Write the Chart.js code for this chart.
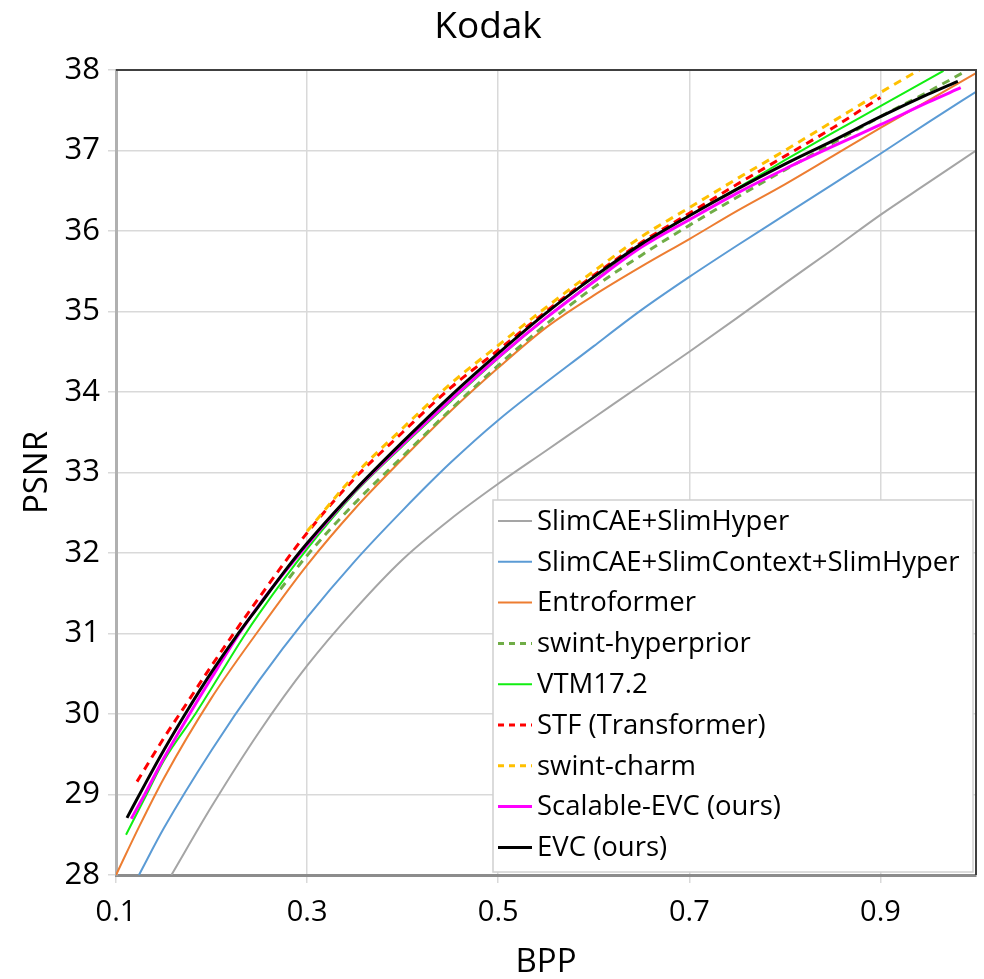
<!DOCTYPE html>
<html>
<head>
<meta charset="utf-8">
<script src="https://cdn.jsdelivr.net/npm/chart.js@4.4.1/dist/chart.umd.min.js"></script>
<style>
  html, body { margin: 0; padding: 0; background: #fff; }
  canvas { display: block; }
</style>
</head>
<body>
<canvas id="chtKodak" width="984" height="979"></canvas>
<script>
'use strict';

// tick labels
const xTicks = [0.1, 0.3, 0.5, 0.7, 0.9];
const yTicks = [28, 29, 30, 31, 32, 33, 34, 35, 36, 37, 38];

// series names (legend order)
const seriesNames = [
    'SlimCAE+SlimHyper',
    'SlimCAE+SlimContext+SlimHyper',
    'Entroformer',
    'swint-hyperprior',
    'VTM17.2',
    'STF (Transformer)',
    'swint-charm',
    'Scalable-EVC (ours)',
    'EVC (ours)'
];

// BPP / PSNR
const bppSlimHyper = [0.158, 0.2, 0.25, 0.3, 0.35, 0.4, 0.45, 0.5, 0.55, 0.6, 0.65, 0.7, 0.75, 0.8, 0.85, 0.9, 0.95, 1.0];
const psnrSlimHyper = [28.0, 28.85, 29.78, 30.6, 31.3, 31.92, 32.42, 32.86, 33.27, 33.68, 34.09, 34.5, 34.92, 35.35, 35.77, 36.2, 36.6, 37.0];

const bppSlimContext = [0.124, 0.15, 0.2, 0.25, 0.3, 0.35, 0.4, 0.45, 0.5, 0.6, 0.65, 0.7, 0.75, 0.8, 0.85, 0.9, 0.95, 1.0];
const psnrSlimContext = [28.0, 28.58, 29.55, 30.42, 31.2, 31.9, 32.53, 33.12, 33.65, 34.57, 35.02, 35.43, 35.82, 36.2, 36.58, 36.96, 37.35, 37.73];

const bppEntroformer = [0.1, 0.125, 0.15, 0.2, 0.25, 0.3, 0.35, 0.4, 0.45, 0.5, 0.55, 0.6, 0.65, 0.7, 0.75, 0.8, 0.85, 0.9, 0.95, 1.0];
const psnrEntroformer = [28.0, 28.62, 29.2, 30.2, 31.05, 31.85, 32.55, 33.17, 33.76, 34.3, 34.8, 35.2, 35.56, 35.9, 36.25, 36.58, 36.93, 37.28, 37.62, 37.96];

const bppSwintHyper = [0.272, 0.3, 0.35, 0.4, 0.45, 0.5, 0.55, 0.6, 0.65, 0.7, 0.75, 0.8, 0.85, 0.9, 0.95, 0.99];
const psnrSwintHyper = [31.55, 31.97, 32.62, 33.2, 33.78, 34.33, 34.84, 35.3, 35.7, 36.07, 36.42, 36.76, 37.09, 37.42, 37.73, 37.99];

const bppVtm = [0.1105, 0.132, 0.15, 0.183, 0.2, 0.233, 0.25, 0.3, 0.35, 0.4, 0.45, 0.5, 0.55, 0.6, 0.65, 0.7, 0.75, 0.8, 0.85, 0.9, 0.966];
const psnrVtm = [28.5, 29.0, 29.42, 30.0, 30.32, 30.95, 31.25, 32.05, 32.75, 33.33, 33.88, 34.42, 34.92, 35.38, 35.82, 36.19, 36.53, 36.88, 37.22, 37.55, 37.99];

const bppStf = [0.122, 0.15, 0.175, 0.2, 0.25, 0.3, 0.35, 0.4, 0.45, 0.5, 0.55, 0.6, 0.65, 0.7, 0.75, 0.8, 0.85, 0.9];
const psnrStf = [29.16, 29.7, 30.15, 30.6, 31.45, 32.25, 32.93, 33.5, 34.05, 34.52, 35.0, 35.45, 35.86, 36.22, 36.58, 36.93, 37.28, 37.66];

const bppSwintCharm = [0.3, 0.35, 0.4, 0.45, 0.5, 0.55, 0.6, 0.65, 0.7, 0.75, 0.8, 0.85, 0.9, 0.945];
const psnrSwintCharm = [32.27, 32.97, 33.55, 34.1, 34.58, 35.05, 35.5, 35.93, 36.29, 36.65, 37.0, 37.36, 37.72, 38.03];

const bppScalableEvc = [0.116, 0.13, 0.15, 0.177, 0.2, 0.229, 0.25, 0.3, 0.35, 0.4, 0.45, 0.5, 0.55, 0.6, 0.65, 0.7, 0.75, 0.8, 0.85, 0.9, 0.95, 0.984];
const psnrScalableEvc = [28.7, 29.0, 29.45, 30.0, 30.45, 31.0, 31.36, 32.1, 32.77, 33.35, 33.9, 34.43, 34.92, 35.37, 35.8, 36.14, 36.47, 36.77, 37.05, 37.32, 37.6, 37.78];

const bppEvc = [0.1115, 0.13, 0.15, 0.175, 0.2, 0.225, 0.25, 0.275, 0.3, 0.35, 0.4, 0.45, 0.5, 0.55, 0.6, 0.65, 0.7, 0.75, 0.8, 0.85, 0.9, 0.95, 0.981];
const psnrEvc = [28.71, 29.12, 29.55, 30.05, 30.52, 30.95, 31.35, 31.75, 32.12, 32.78, 33.38, 33.95, 34.48, 34.98, 35.43, 35.84, 36.19, 36.52, 36.83, 37.12, 37.42, 37.7, 37.86];

const FONT = '"Open Sans", "DejaVu Sans", sans-serif';

function toPoints(xs, ys) {
    return xs.map((x, i) => ({ x: x, y: ys[i] }));
}

function makeSeries(index, xs, ys, color, width, dash) {
    return {
        label: seriesNames[index],
        data: toPoints(xs, ys),
        borderColor: color,
        backgroundColor: color,
        borderWidth: width,
        borderDash: dash || [],
        pointRadius: 0,
        cubicInterpolationMode: 'monotone',
        fill: false,
        // later series sit on top, as in the original
        order: seriesNames.length - index
    };
}

const datasets = [
    makeSeries(0, bppSlimHyper, psnrSlimHyper, '#a5a5a5', 2),
    makeSeries(1, bppSlimContext, psnrSlimContext, '#5b9bd5', 2),
    makeSeries(2, bppEntroformer, psnrEntroformer, '#ed7d31', 2),
    makeSeries(3, bppSwintHyper, psnrSwintHyper, '#70ad47', 3, [8, 6]),
    makeSeries(4, bppVtm, psnrVtm, '#11ee11', 2),
    makeSeries(5, bppStf, psnrStf, '#ff0000', 3, [8, 6]),
    makeSeries(6, bppSwintCharm, psnrSwintCharm, '#ffc000', 3, [8, 6]),
    makeSeries(7, bppScalableEvc, psnrScalableEvc, '#ff00ff', 3),
    makeSeries(8, bppEvc, psnrEvc, '#000000', 3)
];

// dark frame on top and right of the plot
const frameLines = {
    id: 'frameLines',
    afterDatasetsDraw(chart) {
        const a = chart.chartArea;
        const ctx = chart.ctx;
        ctx.save();
        ctx.strokeStyle = '#404040';
        ctx.lineWidth = 2;
        ctx.beginPath();
        ctx.moveTo(a.left, a.top);
        ctx.lineTo(a.right, a.top);
        ctx.lineTo(a.right, a.bottom);
        ctx.stroke();
        ctx.restore();
    }
};

// boxed legend inside the plot, lower right
const boxLegend = {
    id: 'boxLegend',
    afterDraw(chart, args, opts) {
        const ctx = chart.ctx;
        const a = chart.chartArea;
        const left = a.right - opts.right - opts.width;
        const top = a.bottom - opts.bottom - opts.height;
        ctx.save();
        ctx.fillStyle = '#ffffff';
        ctx.fillRect(left, top, opts.width, opts.height);
        ctx.strokeStyle = '#d0d0d0';
        ctx.lineWidth = 1.5;
        ctx.strokeRect(left, top, opts.width, opts.height);

        ctx.font = opts.fontSize + 'px ' + FONT;
        ctx.textBaseline = 'middle';
        ctx.fillStyle = '#000000';
        chart.data.datasets.forEach((ds, i) => {
            const y = top + opts.firstRow + i * opts.rowGap;
            ctx.save();
            ctx.strokeStyle = ds.borderColor;
            ctx.lineWidth = ds.borderWidth;
            ctx.setLineDash(ds.borderDash.length ? [6, 5] : []);
            ctx.beginPath();
            ctx.moveTo(left + 5, y);
            ctx.lineTo(left + 39, y);
            ctx.stroke();
            ctx.restore();
            ctx.fillText(ds.label, left + 44, y + 1);
        });
        ctx.restore();
    }
};

new Chart(document.getElementById('chtKodak'), {
    type: 'line',
    data: { datasets: datasets },
    plugins: [frameLines, boxLegend],
    options: {
        responsive: false,
        animation: false,
        layout: { padding: { top: 0, right: 8, bottom: 0, left: 0 } },
        plugins: {
            legend: { display: false },
            tooltip: { enabled: false },
            title: {
                display: true,
                text: 'Kodak',
                color: '#000000',
                font: { family: FONT, size: 37, weight: 'normal', lineHeight: 1.2 },
                padding: { top: 5, bottom: 20.6 }
            },
            boxLegend: {
                right: 3,
                bottom: 3,
                width: 480,
                height: 372,
                firstRow: 21,
                rowGap: 40.8,
                fontSize: 27.5
            }
        },
        scales: {
            x: {
                type: 'linear',
                min: 0.1,
                max: 1.0,
                afterBuildTicks(scale) {
                    scale.ticks = xTicks.map((v) => ({ value: v }));
                },
                afterFit(scale) {
                    scale.height = 104;
                },
                ticks: {
                    color: '#000000',
                    padding: 12,
                    font: { family: FONT, size: 29 },
                    callback: (v) => Number(v).toFixed(1)
                },
                grid: {
                    color: '#d9d9d9',
                    lineWidth: 1.5,
                    tickLength: 8,
                    tickColor: '#d9d9d9'
                },
                border: { color: '#8c8c8c', width: 3 },
                title: {
                    display: true,
                    text: 'BPP',
                    color: '#000000',
                    font: { family: FONT, size: 33, lineHeight: 1 },
                    padding: { top: 0, bottom: 0 }
                }
            },
            y: {
                type: 'linear',
                min: 28,
                max: 38,
                afterBuildTicks(scale) {
                    scale.ticks = yTicks.map((v) => ({ value: v }));
                },
                afterFit(scale) {
                    scale.width = 116;
                },
                ticks: {
                    color: '#000000',
                    padding: 8,
                    font: { family: FONT, size: 31 }
                },
                grid: {
                    color: '#d9d9d9',
                    lineWidth: 1.5,
                    tickLength: 8,
                    tickColor: '#d9d9d9'
                },
                border: { color: '#b0b0b0', width: 3 },
                title: {
                    display: true,
                    text: 'PSNR',
                    color: '#000000',
                    font: { family: FONT, size: 33, lineHeight: 1.2 },
                    padding: { top: 18, bottom: 0 }
                }
            }
        }
    }
});
</script>
</body>
</html>
